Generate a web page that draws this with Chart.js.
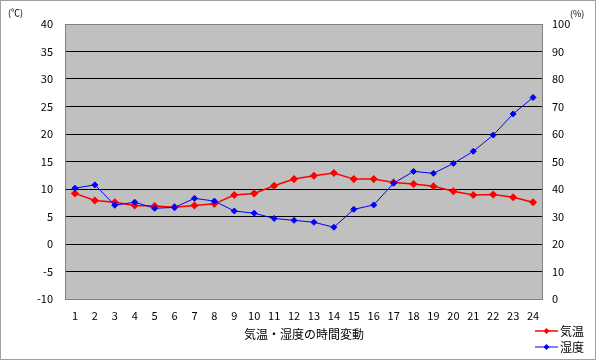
<!DOCTYPE html>
<html>
<head>
<meta charset="utf-8">
<script src="https://cdn.jsdelivr.net/npm/chart.js@4"></script>
<style>
  html, body { margin: 0; padding: 0; background: #fff; }
</style>
</head>
<body>
<canvas id="myChart" width="596" height="360"></canvas>
<script>
// hours 1..24
const hours = ['1','2','3','4','5','6','7','8','9','10','11','12','13','14','15','16','17','18','19','20','21','22','23','24'];
// 気温 (℃), left axis
const kion = [9.2, 7.9, 7.6, 7.0, 6.9, 6.7, 7.0, 7.3, 8.9, 9.2, 10.6, 11.8, 12.4, 12.9, 11.8, 11.8, 11.2, 10.9, 10.5, 9.6, 8.9, 9.0, 8.5, 7.6];
// 湿度 (%), right axis
const shitsudo = [40.3, 41.5, 34.1, 35.2, 33.0, 33.3, 36.6, 35.6, 32.0, 31.2, 29.3, 28.6, 27.9, 26.1, 32.6, 34.2, 42.1, 46.4, 45.7, 49.3, 53.7, 59.6, 67.3, 73.3];

const FONT = "'Noto Sans CJK JP', 'DejaVu Sans', sans-serif";

const framePlugin = {
  id: 'framePlugin',
  beforeDraw(chart) {
    const {ctx, chartArea: a} = chart;
    ctx.save();
    ctx.fillStyle = '#ffffff';
    ctx.fillRect(0, 0, chart.width, chart.height);
    ctx.fillStyle = '#c0c0c0';
    ctx.fillRect(a.left, a.top, a.right - a.left, a.bottom - a.top);
    ctx.restore();
  },
  beforeDatasetsDraw(chart) {
    const {ctx, chartArea: a} = chart;
    ctx.save();
    ctx.strokeStyle = '#808080';
    ctx.lineWidth = 1;
    ctx.strokeRect(Math.round(a.left) + 0.5, Math.round(a.top) + 0.5, Math.round(a.right - a.left) - 1, Math.round(a.bottom - a.top));
    ctx.restore();
  },
  afterDraw(chart) {
    const ctx = chart.ctx;
    ctx.save();
    // outer border
    ctx.strokeStyle = '#a0a0a0';
    ctx.lineWidth = 1;
    ctx.strokeRect(0.5, 0.5, chart.width - 1, chart.height - 1);
    // units
    ctx.fillStyle = '#000';
    ctx.font = '9px ' + FONT;
    ctx.textBaseline = 'middle';
    ctx.textAlign = 'left';
    ctx.fillText('(℃)', 8, 13);
    ctx.fillText('(%)', 570, 14);
    // legend
    const rows = [331, 347];
    chart.data.datasets.forEach((ds, i) => {
      const y = rows[i];
      ctx.strokeStyle = ds.borderColor;
      ctx.lineWidth = ds.borderWidth;
      ctx.beginPath();
      ctx.moveTo(535, y);
      ctx.lineTo(558, y);
      ctx.stroke();
      ctx.fillStyle = ds.borderColor;
      ctx.beginPath();
      ctx.moveTo(546.5, y - 3);
      ctx.lineTo(549.5, y);
      ctx.lineTo(546.5, y + 3);
      ctx.lineTo(543.5, y);
      ctx.closePath();
      ctx.fill();
      ctx.fillStyle = '#000';
      ctx.font = '12px ' + FONT;
      ctx.fillText(ds.label, 560, y);
    });
    ctx.restore();
  }
};

const data = {
  labels: hours,
  datasets: [
    {
      label: '気温',
      data: kion,
      yAxisID: 'y',
      borderColor: '#ff0000',
      backgroundColor: '#ff0000',
      borderWidth: 1.5,
      pointStyle: 'rectRot',
      pointRadius: 3,
      order: 1
    },
    {
      label: '湿度',
      data: shitsudo,
      yAxisID: 'y1',
      borderColor: '#0000ff',
      backgroundColor: '#0000ff',
      borderWidth: 1,
      pointStyle: 'rectRot',
      pointRadius: 3,
      order: 0
    }
  ]
};

const config = {
  type: 'line',
  data: data,
  options: {
    responsive: false,
    animation: false,
    layout: { padding: { top: 24, left: 0, right: 0, bottom: 0 } },
    plugins: {
      legend: { display: false },
      tooltip: { enabled: false }
    },
    scales: {
      x: {
        offset: true,
        grid: { display: false, drawTicks: false },
        border: { display: false },
        ticks: { color: '#000', font: { family: FONT, size: 11 }, padding: 10, maxRotation: 0, autoSkip: false },
        title: {
          display: true,
          text: '気温・湿度の時間変動',
          color: '#000',
          font: { family: FONT, size: 12 },
          padding: { top: 0, bottom: 18 }
        },
        afterFit(scale) { scale.height = 61; }
      },
      y: {
        position: 'left',
        min: -10,
        max: 40,
        ticks: { stepSize: 5, color: '#000', font: { family: FONT, size: 11 }, padding: 12 },
        grid: {
          drawTicks: false,
          color: (c) => (c.tick && (c.tick.value === 40 || c.tick.value === -10)) ? 'rgba(0,0,0,0)' : '#000000',
          lineWidth: 1
        },
        border: { display: false },
        afterFit(scale) { scale.width = 65; }
      },
      y1: {
        position: 'right',
        min: 0,
        max: 100,
        ticks: { stepSize: 10, color: '#000', font: { family: FONT, size: 11 }, padding: 9 },
        grid: { display: false, drawTicks: false },
        border: { display: false },
        afterFit(scale) { scale.width = 53; }
      }
    }
  },
  plugins: [framePlugin]
};

const myChart = new Chart(document.getElementById('myChart'), config);
</script>
</body>
</html>
